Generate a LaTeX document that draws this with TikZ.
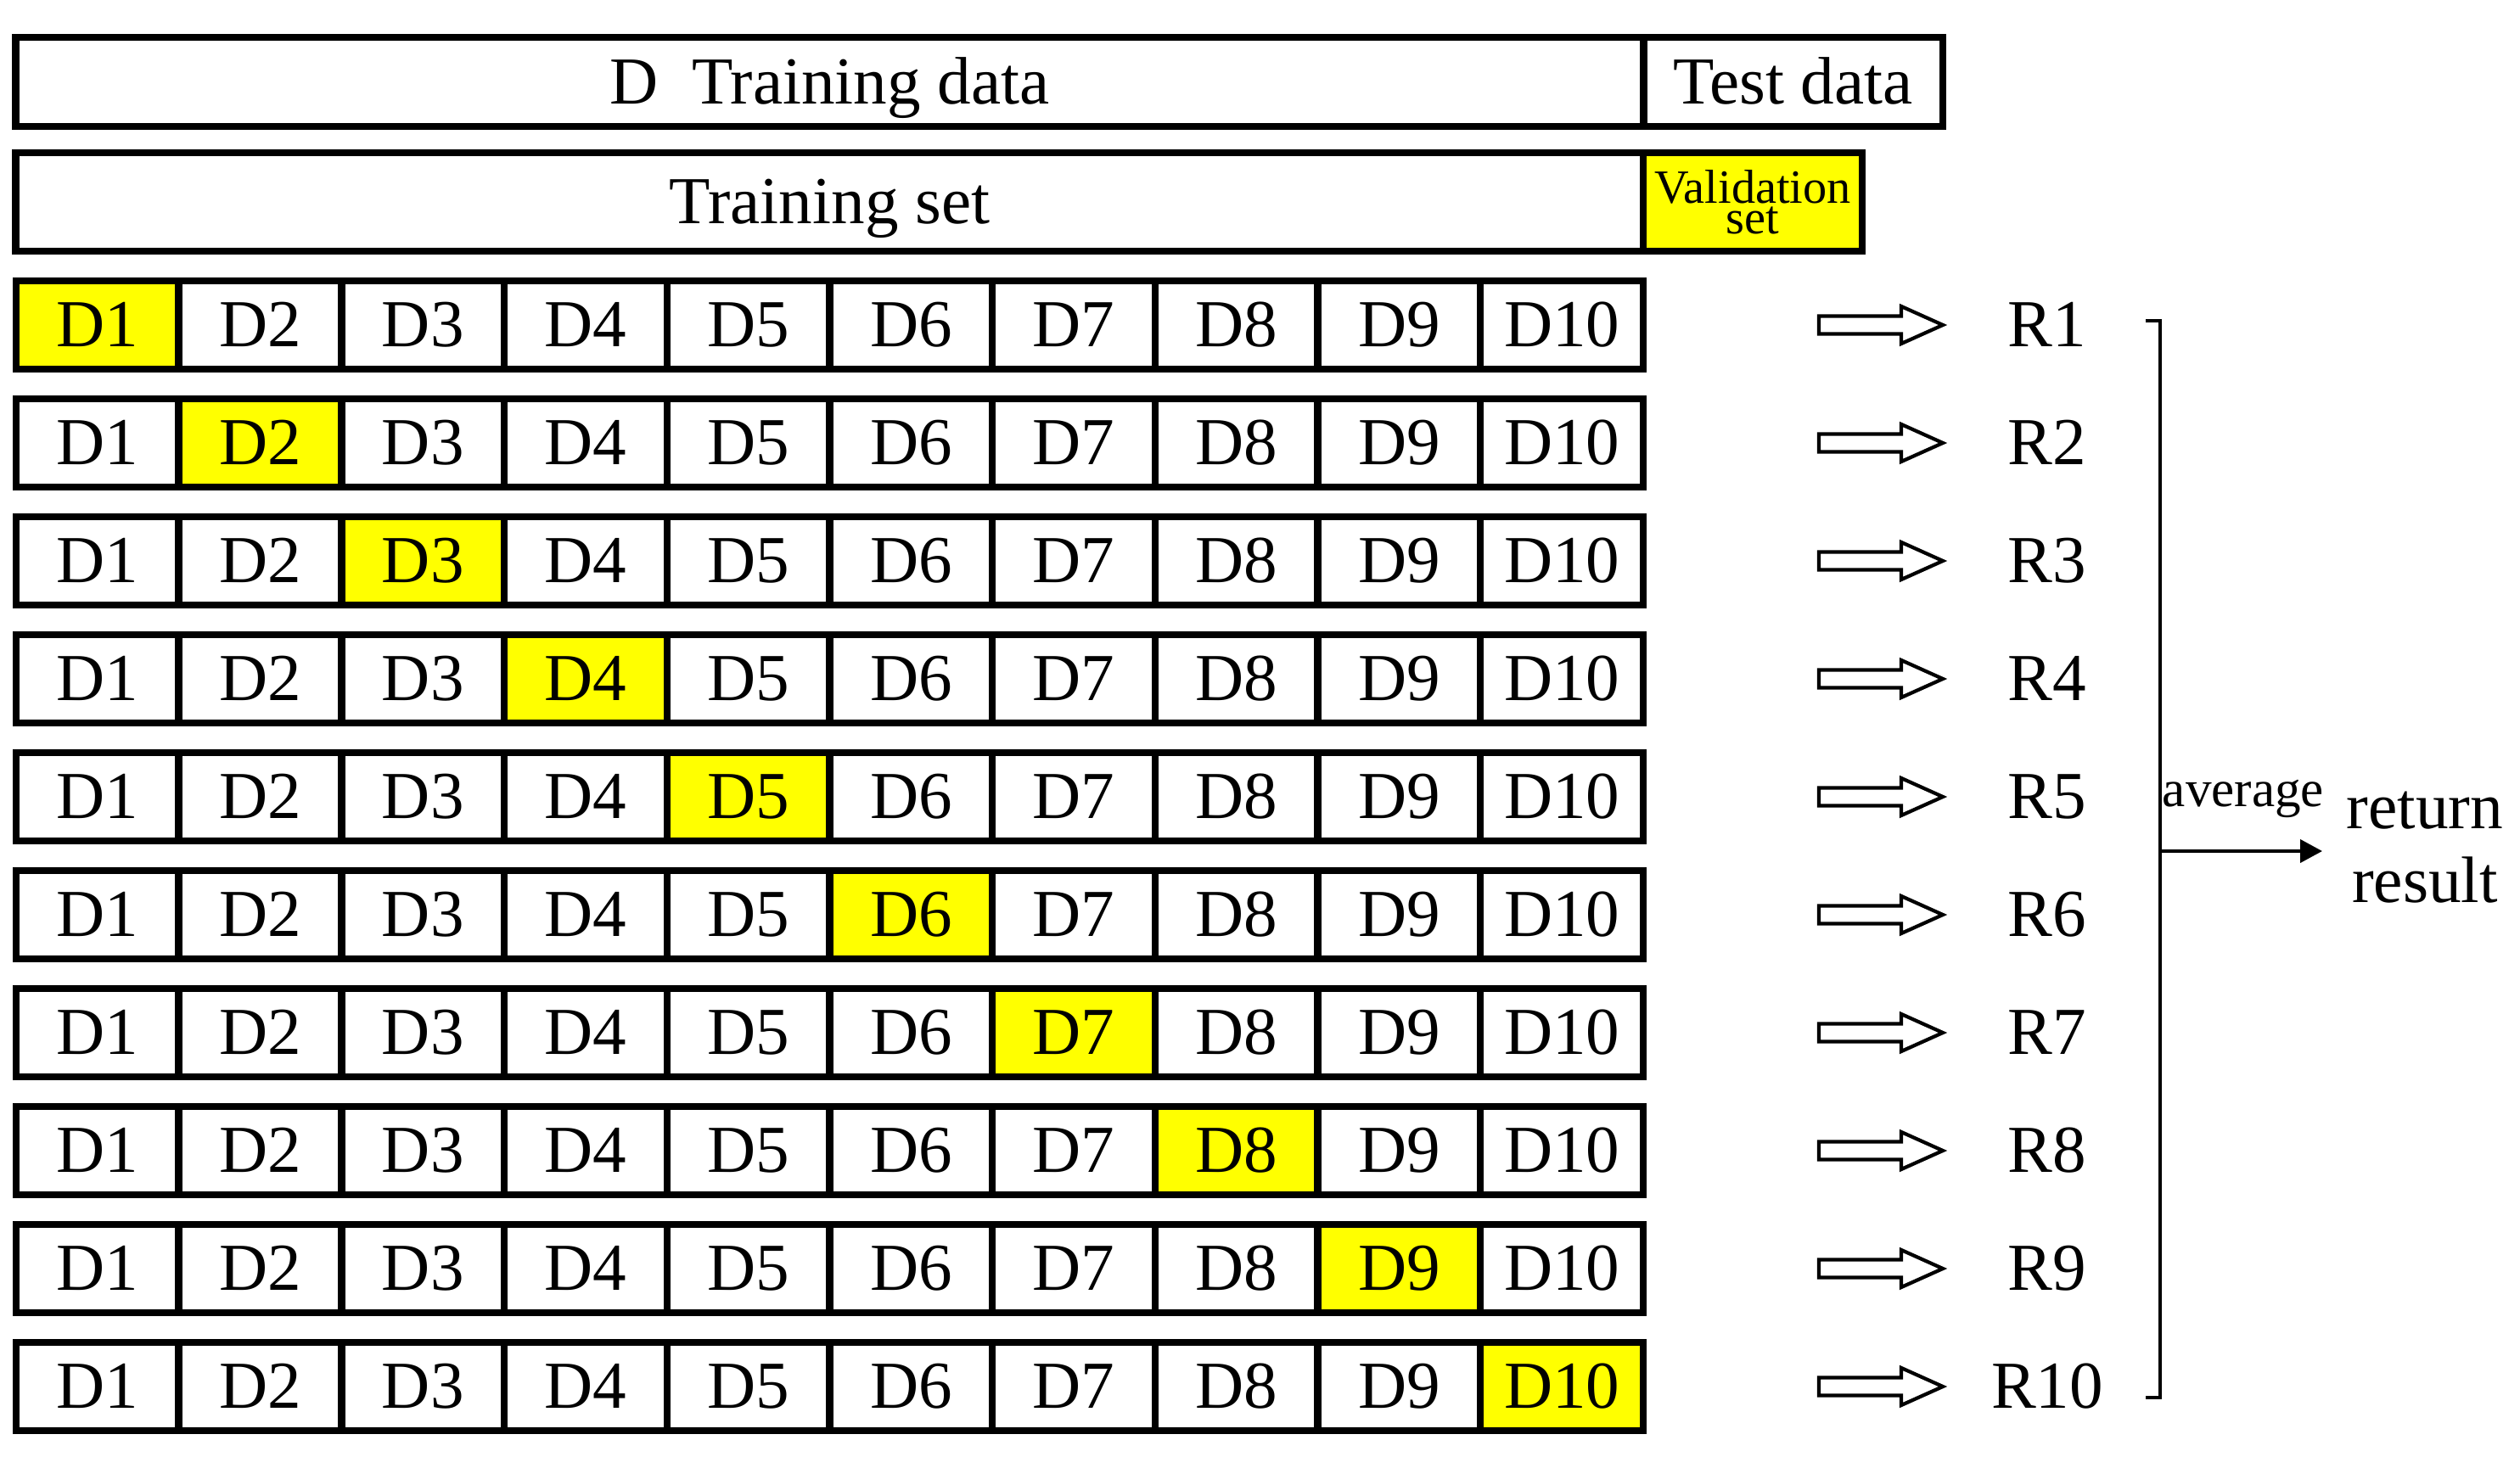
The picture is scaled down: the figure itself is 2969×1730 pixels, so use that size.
\documentclass[tikz,border=0pt]{standalone}
\usepackage{fontspec}
\setmainfont{Liberation Serif}
\usetikzlibrary{arrows.meta}
\definecolor{hl}{RGB}{255,255,0}
\begin{document}
\begin{tikzpicture}[x=0.01cm,y=-0.01cm,
  box/.style={draw=black, line width=2.4pt, rectangle, inner sep=0pt,
    text height=14.7pt, text depth=0pt, font=\fontsize{22.5}{27}\selectfont},
  cell/.style={box, minimum width=1.917cm, minimum height=1.04cm},
  rlab/.style={inner sep=0pt, text height=14.7pt, text depth=0pt,
    font=\fontsize{22.5}{27}\selectfont},
  thinline/.style={line width=1.15pt},
  hollowarrow/.pic={\draw[line width=1.2pt] (0,10.5) -- (97,10.5) -- (97,22) -- (146,0)
     -- (97,-22) -- (97,-10.5) -- (0,-10.5) -- cycle;}
]
\useasboundingbox (0,0) rectangle (2969,1730);
\fill[white] (0,0) rectangle (2969,1730);

% header rows
\node[box, minimum width=19.17cm, minimum height=1.05cm] (train) at (977.5,96.5) {D~~Training data};
\node[box, minimum width=3.53cm, minimum height=1.05cm] (test) at (2112.5,96.5) {Test data};
\node[box, minimum width=19.17cm, minimum height=1.16cm] (tset) at (977.5,238) {Training set};
\node[box, fill=hl, minimum width=2.58cm, minimum height=1.16cm, text height=, text depth=,
  align=center, font=\fontsize{16}{10.24}\selectfont] (val) at (2065,238) {Validation\\set};

% folds
\foreach \i in {1,...,10} {
  \pgfmathsetmacro\yc{383+139*(\i-1)}
  \foreach \j in {1,...,10} {
    \pgfmathsetmacro\xc{19+191.7*(\j-0.5)}
    \ifnum\i=\j \def\fc{hl}\else\def\fc{white}\fi
    \node[cell, fill=\fc] (c-\i-\j) at (\xc,\yc) {D\j};
  }
  \node[rlab] (r\i) at (2412,\yc) {R\i};
  \coordinate (a\i) at (2143,\yc);
  \pic at (a\i) {hollowarrow};
}

% bracket and average arrow
\coordinate (bt) at (2528,378);
\coordinate (bb) at (2528,1647);
\draw[thinline] (bt) -- ++(17,0) |- (bb);
\coordinate (avg) at (2545,1003);
\coordinate (avgend) at (2736,1003);
\node[inner sep=0pt, align=center, font=\fontsize{22}{24.75}\selectfont] (res) at (2857,999) {return\\result};
\draw[thinline, -{Triangle[length=0.26cm, width=0.27cm]}] (avg) -- (avgend);
\node[anchor=base, inner sep=0pt, font=\fontsize{17.4}{20}\selectfont] (avgl) at (2643,950) {average};
\end{tikzpicture}
\end{document}
